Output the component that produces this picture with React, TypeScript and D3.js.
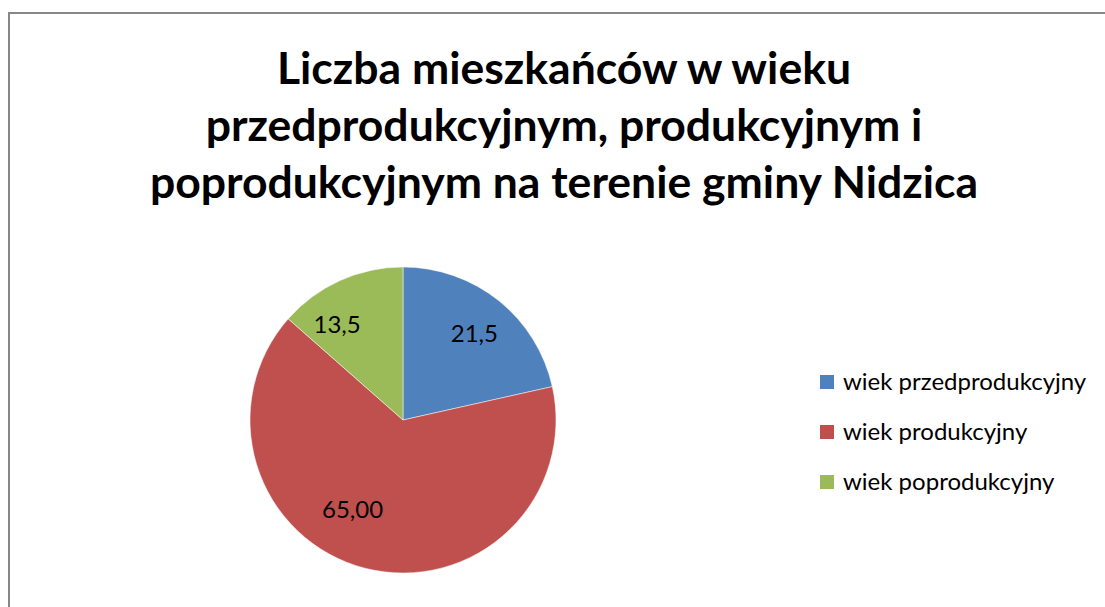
import React from "react";
import * as d3 from "d3";

const titleLines = [
  "Liczba mieszkańców w wieku",
  "przedprodukcyjnym, produkcyjnym i",
  "poprodukcyjnym na terenie gminy Nidzica",
];
const categories = ["wiek przedprodukcyjny", "wiek produkcyjny", "wiek poprodukcyjny"];
const values = [21.5, 65.0, 13.5];
const valueLabels = ["21,5", "65,00", "13,5"];
const colors = ["#4F81BD", "#C0504D", "#9BBB59"];

const W = 1105;
const H = 607;
const FONT = "Lato, 'Open Sans', sans-serif";

export default function App() {
  const cx = 403;
  const cy = 420;
  const R = 153;
  const pie = d3.pie<number>().sort(null).value((d) => d)(values);
  const arc = d3.arc<d3.PieArcDatum<number>>().innerRadius(0).outerRadius(R);
  // label placement (best-fit style): radius and angular shift per slice
  const labelR = [112, 103, 116];
  const labelShift = [0.015, 0.26, -0.18];

  return (
    <svg
      width={W}
      height={H}
      style={{ position: "absolute", left: 0, top: 0, background: "#fff" }}
    >
      <rect x={0} y={0} width={W} height={H} fill="#fff" />
      <rect x={9} y={13} width={W + 20} height={H + 20} fill="#fff" stroke="#878787" strokeWidth={2} />
      <g fontFamily={FONT} fontWeight="bold" fontSize={44.5} fill="#000" textAnchor="middle">
        {titleLines.map((t, i) => (
          <text key={i} x={564} y={84 + i * 57}>
            {t}
          </text>
        ))}
      </g>
      <g transform={`translate(${cx},${cy})`}>
        {pie.map((p, i) => (
          <path key={i} d={arc(p) || ""} fill={colors[i]} stroke="#fff" strokeWidth={0.5} />
        ))}
        {pie.map((p, i) => {
          const a = (p.startAngle + p.endAngle) / 2 + labelShift[i];
          const x = labelR[i] * Math.sin(a);
          const y = -labelR[i] * Math.cos(a);
          return (
            <text
              key={i}
              x={x}
              y={y}
              dy="0.35em"
              textAnchor="middle"
              fontFamily={FONT}
              fontSize={24}
              fill="#000"
            >
              {valueLabels[i]}
            </text>
          );
        })}
      </g>
      <g fontFamily={FONT} fontSize={24} fill="#000">
        {categories.map((c, i) => (
          <g key={i} transform={`translate(820,${382 + i * 50})`}>
            <rect x={0} y={-7} width={14} height={14} fill={colors[i]} />
            <text x={23} y={0} dy="0.35em">
              {c}
            </text>
          </g>
        ))}
      </g>
    </svg>
  );
}
